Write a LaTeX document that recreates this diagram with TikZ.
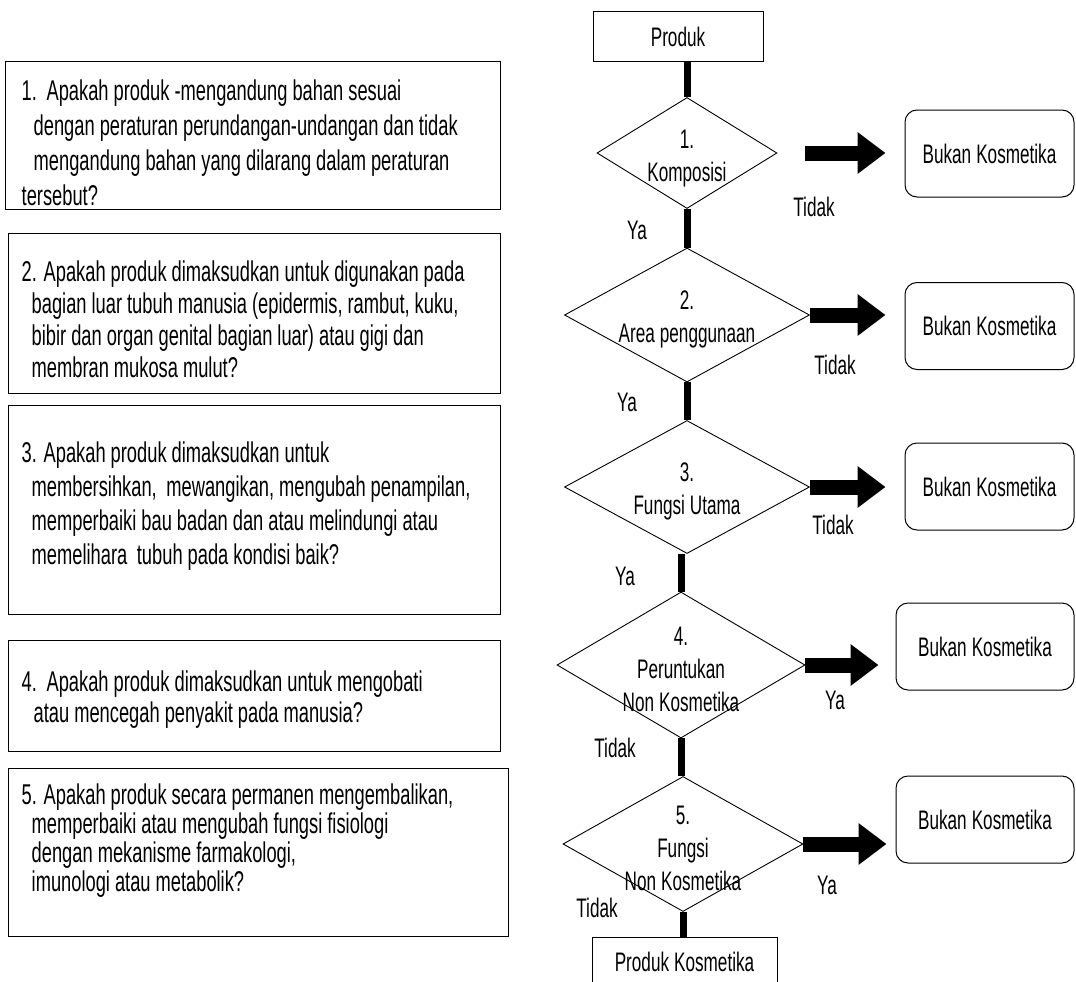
\documentclass[tikz,border=0pt]{standalone}
\usepackage{fontspec}
\setmainfont[FakeStretch=0.64]{Liberation Sans}
\usetikzlibrary{shapes.geometric,arrows.meta,positioning}

\newcommand{\dsp}{\hspace{9.6pt}}
\newcommand{\wordgap}{\spaceskip=5pt plus 1pt minus 1pt\relax}

\begin{document}
\begin{tikzpicture}[x=1pt,y=-1pt,
  flowfont/.style={font=\fontsize{26.8}{#1}\selectfont\wordgap},
  startbox/.style={draw,line width=1pt,minimum width=170pt,minimum height=50pt,
    inner sep=0pt,flowfont=28},
  decision/.style={diamond,draw,line width=0.9pt,inner sep=0pt},
  dtext/.style={align=center,flowfont=33},
  endbox/.style={draw,rounded corners=12pt,line width=1pt,minimum width=169pt,
    minimum height=87pt,flowfont=28},
  qbox/.style={draw,line width=1pt},
  qtext/.style={align=left,inner sep=0pt,anchor=west,
    font=\fontsize{28.6}{#1}\selectfont\wordgap},
  bar/.style={line width=7pt},
  bigarrow/.style={line width=15pt,-{Triangle[length=28pt,width=40pt]},shorten >=19pt},
  lbl/.style={flowfont=28}]

  \useasboundingbox (0,0) rectangle (1076,982);
  \clip (0,0) rectangle (1076,982);

  % questions on the left
  \node (q1) [qbox, minimum width=495pt, minimum height=147pt] at (252.5,135.5) {};
  \node (q1t) [qtext=35] at ([xshift=17pt,yshift=-7pt]q1.west)
    {1.\dsp Apakah produk -mengandung bahan sesuai\\
     \hspace*{12pt}dengan peraturan perundangan-undangan dan tidak\\
     \hspace*{12pt}mengandung bahan yang dilarang dalam peraturan\\
     tersebut?};
  \node (q2) [qbox, minimum width=492pt, minimum height=160pt] at (254,313) {};
  \node (q2t) [qtext=32] at ([xshift=14pt,yshift=-6pt]q2.west)
    {2. Apakah produk dimaksudkan untuk digunakan pada\\
     \hspace*{10pt}bagian luar tubuh manusia (epidermis, rambut, kuku,\\
     \hspace*{10pt}bibir dan organ genital bagian luar) atau gigi dan\\
     \hspace*{10pt}membran mukosa mulut?};
  \node (q3) [qbox, minimum width=492pt, minimum height=209pt] at (254,509.5) {};
  \node (q3t) [qtext=34] at ([xshift=14pt,yshift=3pt]q3.west)
    {3. Apakah produk dimaksudkan untuk\\
     \hspace*{10pt}membersihkan,\dsp mewangikan, mengubah penampilan,\\
     \hspace*{10pt}memperbaiki bau badan dan atau melindungi atau\\
     \hspace*{10pt}memelihara\dsp tubuh pada kondisi baik?};
  \node (q4) [qbox, minimum width=492pt, minimum height=111pt] at (254,695.5) {};
  \node (q4t) [qtext=31] at ([xshift=14pt,yshift=-4pt]q4.west)
    {4.\dsp Apakah produk dimaksudkan untuk mengobati\\
     \hspace*{12pt}atau mencegah penyakit pada manusia?};
  \node (q5) [qbox, minimum width=500pt, minimum height=168pt] at (258,852) {};
  \node (q5t) [qtext=29] at ([xshift=14pt,yshift=11pt]q5.west)
    {5. Apakah produk secara permanen mengembalikan,\\
     \hspace*{10pt}memperbaiki atau mengubah fungsi fisiologi\\
     \hspace*{10pt}dengan mekanisme farmakologi,\\
     \hspace*{10pt}imunologi atau metabolik?};

  % flow chart
  \node (prod) [startbox] at (678,37) {Produk};
  \node (d1) [decision, minimum width=180pt, minimum height=111pt] at (687,153) {};
  \node (d2) [decision, minimum width=245pt, minimum height=134pt] at (687,315) {};
  \node (d3) [decision, minimum width=245pt, minimum height=133pt] at (687,487) {};
  \node (d4) [decision, minimum width=248pt, minimum height=146pt] at (681,665) {};
  \node (d5) [decision, minimum width=240pt, minimum height=135pt] at (683,844) {};
  \node (kos) [startbox, minimum width=185pt] at (684.5,962) {Produk Kosmetika};

  \node (t1) [dtext] at ([yshift=-6pt]d1.center) {1.\\Komposisi};
  \node (t2) [dtext] at ([yshift=-4pt]d2.center) {2.\\Area penggunaan};
  \node (t3) [dtext] at ([yshift=-4pt]d3.center) {3.\\Fungsi Utama};
  \node (t4) [dtext] at ([yshift=-4pt]d4.center) {4.\\Peruntukan\\Non Kosmetika};
  \node (t5) [dtext] at ([yshift=-4pt]d5.center) {5.\\Fungsi\\Non Kosmetika};

  \node (b1) [endbox] at (989.5,153.5) {Bukan Kosmetika};
  \node (b2) [endbox] at (989.5,326) {Bukan Kosmetika};
  \node (b3) [endbox] at (989.5,486.5) {Bukan Kosmetika};
  \node (b4) [endbox, minimum width=178pt] at (985,646.5) {Bukan Kosmetika};
  \node (b5) [endbox, minimum width=178pt] at (985,819.5) {Bukan Kosmetika};

  % vertical bars
  \draw[bar] (prod.south -| d1.north) -- (d1.north);
  \draw[bar] (d1.south) -- (d2.north);
  \draw[bar] (d2.south) -- (d3.north);
  \draw[bar] (d4.north |- d3.south) -- (d4.north);
  \draw[bar] (d4.south) -- (d4.south |- d5.north);
  \draw[bar] (d5.south) -- (d5.south |- kos.north);

  % big arrows
  \draw[bigarrow] ([xshift=28pt]d1.east) -- (d1.east -| b1.west);
  \draw[bigarrow] (d2.east) -- (d2.east -| b2.west);
  \draw[bigarrow] (d3.east) -- (d3.east -| b3.west);
  \draw[bigarrow, shorten >=17pt] (d4.east) -- (d4.east -| b4.west);
  \draw[bigarrow, shorten >=9pt] (d5.east) -- (d5.east -| b5.west);

  % answers
  \node (ya1) [lbl] at (637,230) {Ya};
  \node (ti1) [lbl] at (814,207) {Tidak};
  \node (ya2) [lbl] at (627,402) {Ya};
  \node (ti2) [lbl] at (835,365) {Tidak};
  \node (ya3) [lbl] at (625,576) {Ya};
  \node (ti3) [lbl] at (833,525) {Tidak};
  \node (ti4) [lbl] at (615,748) {Tidak};
  \node (ya4) [lbl] at (835,700) {Ya};
  \node (ti5) [lbl] at (597,908) {Tidak};
  \node (ya5) [lbl] at (827,885) {Ya};
\end{tikzpicture}
\end{document}
